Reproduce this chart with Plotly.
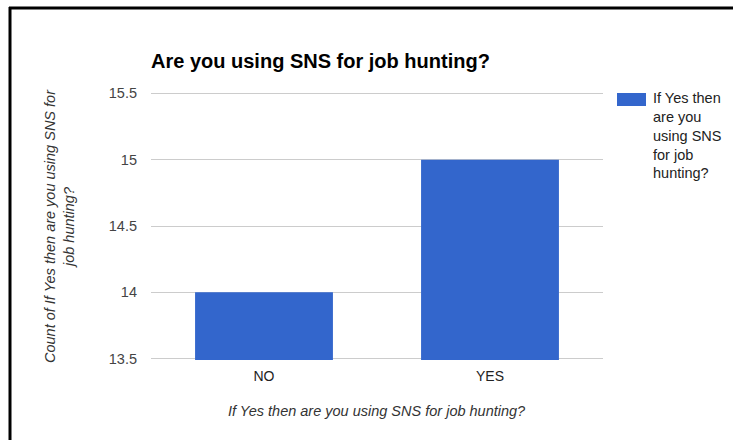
import plotly.graph_objects as go

# Survey answers and their counts
categories = ["NO", "YES"]
counts = [14, 15]

y_ticks = [13.5, 14, 14.5, 15, 15.5]
y_tick_labels = ["13.5", "14", "14.5", "15", "15.5"]

series_name = "If Yes then are you using SNS for job hunting?"
legend_lines = ["If Yes then", "are you", "using SNS", "for job", "hunting?"]
title_text = "Are you using SNS for job hunting?"
y_title_lines = ["Count of If Yes then are you using SNS for", "job hunting?"]

BAR_COLOR = "#3366CC"
FONT = "Liberation Sans, Arial, sans-serif"

W, H = 733, 440
L, R, T, B = 151, 130, 92, 80
pw, ph = W - L - R, H - T - B


def px_x(px):
    return (px - L) / pw


def px_y(py):
    return (H - B - py) / ph


fig = go.Figure(
    go.Bar(
        x=categories,
        y=counts,
        name=series_name,
        marker=dict(color=BAR_COLOR, line=dict(width=0)),
        showlegend=False,
    )
)

fig.update_layout(
    width=W,
    height=H,
    margin=dict(l=L, r=R, t=T, b=B),
    paper_bgcolor="white",
    plot_bgcolor="white",
    font=dict(family=FONT, size=14, color="#444444"),
    bargap=0.39,
    title=dict(
        text="<b>" + title_text + "</b>",
        x=px_x(151), xref="paper", xanchor="left",
        y=1 - 61 / H, yanchor="middle",
        font=dict(size=20, color="#000000", family=FONT),
    ),
    xaxis=dict(
        showgrid=False,
        showline=False,
        zeroline=False,
        ticks="",
        ticklabelstandoff=6,
        tickfont=dict(size=14, color="#222222"),
    ),
    yaxis=dict(
        range=[13.49, 15.51],
        tickvals=y_ticks,
        ticktext=y_tick_labels,
        showgrid=True,
        gridcolor="#CCCCCC",
        gridwidth=1,
        zeroline=False,
        showline=False,
        ticks="",
        ticklabelstandoff=13,
        tickfont=dict(size=14.5, color="#444444"),
    ),
)

# Axis titles
fig.add_annotation(
    text="<i>" + series_name + "</i>",
    xref="paper", yref="paper",
    x=px_x(377), y=px_y(411),
    showarrow=False, xanchor="center", yanchor="middle",
    font=dict(size=14.5, color="#333333", family=FONT),
)
fig.add_annotation(
    text="<i>" + "<br>".join(y_title_lines) + "</i>",
    xref="paper", yref="paper",
    x=px_x(59), y=px_y(226),
    showarrow=False, xanchor="center", yanchor="middle",
    textangle=-90,
    font=dict(size=14.5, color="#333333", family=FONT),
)

# Legend: colour swatch and wrapped label
fig.add_shape(
    type="rect", xref="paper", yref="paper",
    x0=px_x(617), x1=px_x(646), y0=px_y(106), y1=px_y(93),
    fillcolor=BAR_COLOR, line=dict(width=0),
)
fig.add_annotation(
    text="<br>".join(legend_lines),
    xref="paper", yref="paper",
    x=px_x(651), y=px_y(88),
    showarrow=False, xanchor="left", yanchor="top", align="left",
    font=dict(size=14.5, color="#222222", family=FONT),
)

# Frame lines along the top and left edges
fig.add_shape(
    type="line", xref="paper", yref="paper",
    x0=px_x(9), x1=px_x(733), y0=px_y(8), y1=px_y(8),
    line=dict(color="#000000", width=3),
)
fig.add_shape(
    type="line", xref="paper", yref="paper",
    x0=px_x(10), x1=px_x(10), y0=px_y(7), y1=px_y(440),
    line=dict(color="#000000", width=3),
)

fig.write_html("out.html")
